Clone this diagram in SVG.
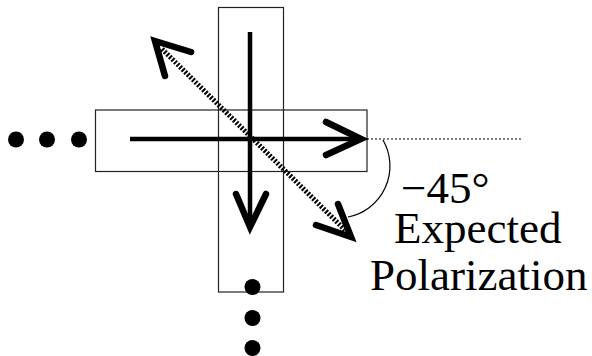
<svg xmlns="http://www.w3.org/2000/svg" width="592" height="356" viewBox="0 0 592 356">
<style>
.box{fill:none;stroke:#222;stroke-width:1.2}
.shaft{fill:none;stroke:#000;stroke-width:4.5}
.head{fill:none;stroke:#000;stroke-width:6.5;stroke-linecap:round;stroke-linejoin:miter}
.dash{fill:none;stroke:#000;stroke-width:5;stroke-dasharray:2 1.6}
.dot{fill:#000}
.lbl{font-family:"Liberation Serif","Times New Roman",serif;font-size:45px;fill:#000}
</style>
<rect width="592" height="356" fill="#fff"/>
<g id="vertical-channel"><rect class="box" x="218.5" y="7.5" width="65" height="284.5"/></g>
<g id="horizontal-channel"><rect class="box" x="95.5" y="110" width="271.5" height="61.5"/></g>
<g id="left-dots"><circle class="dot" cx="16" cy="139.5" r="8"/><circle class="dot" cx="47" cy="139.5" r="8"/><circle class="dot" cx="79" cy="139.5" r="8"/></g>
<g id="bottom-dots"><circle class="dot" cx="252.5" cy="287" r="8"/><circle class="dot" cx="252.5" cy="318" r="8"/><circle class="dot" cx="252.5" cy="348" r="8"/></g>
<g id="connectors">
<line class="shaft" x1="130" y1="139" x2="358" y2="139"/>
<polyline class="head" points="326,122 361,139 326,155"/>
<line class="shaft" x1="250" y1="32" x2="250" y2="225"/>
<polyline class="head" points="236,194 250,227 266,194"/>
<line class="dash" x1="162" y1="49" x2="345" y2="230"/>
<polyline class="head" points="191,52 155,41 165,76"/>
<polyline class="head" points="338,204 351,237 316,225"/>
<line x1="367" y1="139" x2="522" y2="139" stroke="#000" stroke-width="1" stroke-dasharray="2 2"/>
<path d="M383,140 A 52 52 0 0 1 348,217" fill="none" stroke="#000" stroke-width="1.2"/>
</g>
<g id="label">
<text class="lbl" x="401" y="203">−45°</text>
<text class="lbl" x="394" y="243">Expected</text>
<text class="lbl" x="370" y="290">Polarization</text>
</g>
</svg>
